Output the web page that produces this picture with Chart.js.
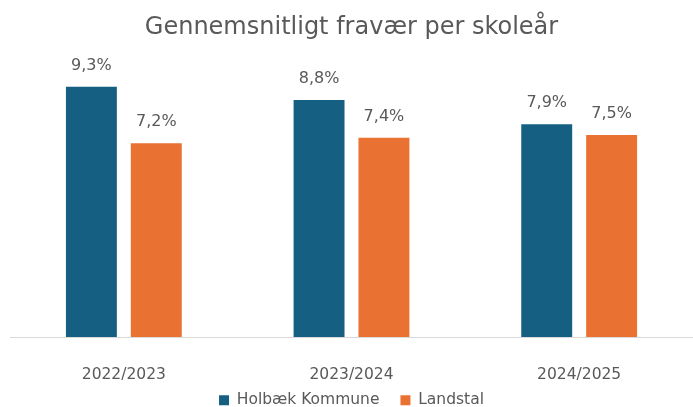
<!DOCTYPE html>
<html><head><meta charset="utf-8">
<script src="https://cdn.jsdelivr.net/npm/chart.js@4/dist/chart.umd.min.js"></script>
<style>html,body{margin:0;padding:0;background:#fff}</style>
</head><body>
<canvas id="c" width="693" height="407"></canvas>
<script>
const categories = ['2022/2023', '2023/2024', '2024/2025'];
const seriesNames = ['Holbæk Kommune', 'Landstal'];
const holbaek = [9.3, 8.8, 7.9];
const landstal = [7.2, 7.4, 7.5];
const titleText = 'Gennemsnitligt fravær per skoleår';

const FONT = '"DejaVu Sans", sans-serif';
const TXT = '#595959';

const fmt = v => v.toFixed(1).replace('.', ',') + '%';

const labelPlugin = {
  id: 'barLabels',
  afterLayout(chart) {
    // let the x tick labels extend into the legend band without clipping
    const xs = chart.scales.x;
    xs.bottom = xs.top + 50;
  },
  afterDatasetsDraw(chart) {
    const ctx = chart.ctx;
    ctx.save();
    ctx.font = '16px ' + FONT;
    ctx.fillStyle = TXT;
    ctx.textAlign = 'center';
    ctx.textBaseline = 'middle';
    chart.data.datasets.forEach((ds, i) => {
      chart.getDatasetMeta(i).data.forEach((bar, j) => {
        ctx.fillText(fmt(ds.data[j]), bar.x, bar.y - 21);
      });
    });
    ctx.restore();
  }
};

new Chart(document.getElementById('c'), {
  type: 'bar',
  data: {
    labels: categories,
    datasets: [
      { label: seriesNames[0], data: holbaek, backgroundColor: '#156082' },
      { label: seriesNames[1], data: landstal, backgroundColor: '#E97132' }
    ]
  },
  options: {
    responsive: false,
    animation: false,
    devicePixelRatio: 1,
    categoryPercentage: 0.570,
    barPercentage: 0.785,
    layout: { padding: { left: 10, right: 0, top: 0, bottom: -11 } },
    plugins: {
      title: {
        display: true,
        text: titleText,
        color: TXT,
        font: { family: FONT, size: 24, weight: 'normal' },
        padding: { top: 13, bottom: 26 }
      },
      legend: {
        position: 'bottom',
        labels: {
          color: TXT,
          font: { family: FONT, size: 15.5 },
          boxWidth: 10,
          boxHeight: 10,
          padding: 21
        }
      },
      tooltip: { enabled: false }
    },
    scales: {
      x: {
        grid: { display: false, drawTicks: false },
        border: { display: true, color: '#d9d9d9', width: 1 },
        ticks: { color: TXT, font: { family: FONT, size: 15.5 }, padding: 29 },
        afterFit(scale) { scale.height = 34.5; }
      },
      y: {
        display: false,
        min: 0,
        max: 10
      }
    }
  },
  plugins: [labelPlugin]
});
</script>
</body></html>
